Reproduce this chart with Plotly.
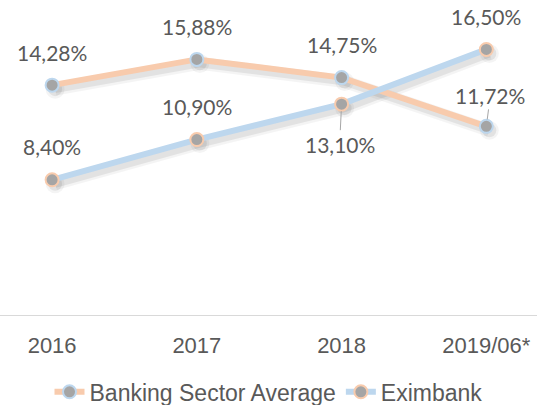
import plotly.graph_objects as go

categories = ["2016", "2017", "2018", "2019/06*"]
banking = [14.28, 15.88, 14.75, 11.72]
eximbank = [8.40, 10.90, 13.10, 16.50]
banking_name = "Banking Sector Average"
eximbank_name = "Eximbank"

ORANGE = "#F8CBAD"
BLUE = "#BDD7EE"
GRAY = "#A5A5A5"
TEXT = "#595959"

xr = [-0.36, 3.35]
yr = [0, 18.95]
# shadow offset via shifted ranges on the base axes
dx = 3 / 144.7
dy = 4 / 16.09

fig = go.Figure()

# soft shadows (base axes, drawn beneath the overlaying axes)
for vals in (banking, eximbank):
    for w, a in ((13, 0.045), (8, 0.07)):
        fig.add_trace(go.Scatter(
            x=categories, y=vals, mode="lines+markers",
            line=dict(color=f"rgba(0,0,0,{a})", width=w),
            marker=dict(size=w + 6, color=f"rgba(0,0,0,{a})"),
            showlegend=False, hoverinfo="skip", xaxis="x", yaxis="y"))

fig.add_trace(go.Scatter(
    x=categories, y=banking, name=banking_name, mode="lines+markers",
    line=dict(color=ORANGE, width=6),
    marker=dict(size=13, color=GRAY, line=dict(color=BLUE, width=2)),
    xaxis="x2", yaxis="y2"))
fig.add_trace(go.Scatter(
    x=categories, y=eximbank, name=eximbank_name, mode="lines+markers",
    line=dict(color=BLUE, width=6),
    marker=dict(size=13, color=GRAY, line=dict(color=ORANGE, width=2)),
    xaxis="x2", yaxis="y2"))

def fmt(v):
    return f"{v:.2f}".replace(".", ",") + "%"

lab_font = dict(family="Lato, sans-serif", size=21, color=TEXT)
annotations = []
for i, v in enumerate(banking):
    if i == 3:
        annotations.append(dict(x=i, y=v, xref="x2", yref="y2", text=fmt(v),
                                showarrow=True, arrowhead=0, arrowwidth=1,
                                arrowcolor="#A6A6A6", ax=4, ay=-31, standoff=7,
                                font=lab_font))
    else:
        annotations.append(dict(x=i, y=v, xref="x2", yref="y2", text=fmt(v),
                                showarrow=False, yshift=33, font=lab_font))
for i, v in enumerate(eximbank):
    if i == 2:
        annotations.append(dict(x=i, y=v, xref="x2", yref="y2", text=fmt(v),
                                showarrow=True, arrowhead=0, arrowwidth=1,
                                arrowcolor="#A6A6A6", ax=-2, ay=40, standoff=7,
                                font=lab_font))
    else:
        annotations.append(dict(x=i, y=v, xref="x2", yref="y2", text=fmt(v),
                                showarrow=False, yshift=33, font=lab_font))

fig.update_layout(
    width=537, height=405,
    margin=dict(l=0, r=0, t=10, b=90, autoexpand=False),
    paper_bgcolor="white", plot_bgcolor="white",
    font=dict(family="Liberation Sans, Arial, sans-serif", color=TEXT),
    xaxis=dict(type="category", range=[xr[0] - dx, xr[1] - dx], visible=False,
               automargin=False),
    yaxis=dict(range=[yr[0] + dy, yr[1] + dy], visible=False, automargin=False),
    xaxis2=dict(type="category", range=xr, overlaying="x", anchor="y2", side="bottom",
                automargin=False, showgrid=False, zeroline=False, showline=True,
                linecolor="#D9D9D9", linewidth=1,
                ticks="outside", ticklen=11, tickcolor="rgba(0,0,0,0)",
                tickfont=dict(size=22, color=TEXT)),
    yaxis2=dict(range=yr, overlaying="y", visible=False, automargin=False),
    showlegend=True,
    legend=dict(orientation="h", x=0.5, xanchor="center", y=-0.252, yanchor="middle",
                font=dict(size=23, color=TEXT), itemwidth=30,
                traceorder="normal"),
    annotations=annotations,
)

fig.write_html("out.html", config={"displayModeBar": False},
               post_script="document.body.style.margin='0px';")
